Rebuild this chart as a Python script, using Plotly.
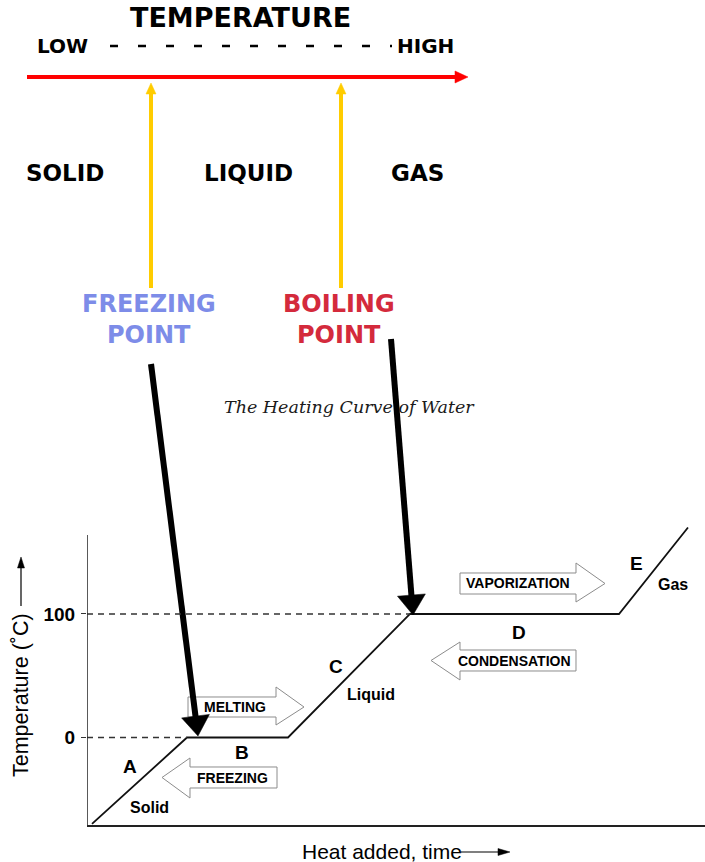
import math
import plotly.graph_objects as go

W, H = 705, 862

# ---------------- data ----------------
heat_added = [0, 95, 196, 318, 527, 596]          # arbitrary heat units
temperature_c = [-70, 0, 0, 100, 100, 170]        # degrees C
y_tick_values = [0, 100]
y_tick_labels = ["0", "100"]
segment_labels = ["A", "B", "C", "D", "E"]
phase_labels = ["Solid", "Liquid", "Gas"]
process_labels = ["MELTING", "FREEZING", "VAPORIZATION", "CONDENSATION"]
scale_title = "TEMPERATURE"
scale_ends = ["LOW", "HIGH"]
scale_states = ["SOLID", "LIQUID", "GAS"]
scale_points = [["FREEZING", "POINT"], ["BOILING", "POINT"]]
chart_title = "The Heating Curve of Water"
x_title = "Heat added, time"
y_title = "Temperature (˚C)"

# ---------------- geometry helpers ----------------
X_RANGE = [-5, 613]
Y_RANGE = [-70.85, 176.1]


def px(x):
    return x / W


def py(y):
    return 1 - y / H


def P(x, y):
    return f"{px(x):.5f},{py(y):.5f}"


def poly(points):
    return "M " + " L ".join(P(x, y) for x, y in points) + " Z"


shapes = []
annotations = []


def line(x0, y0, x1, y1, color, width, dash="solid"):
    shapes.append(dict(type="line", xref="paper", yref="paper",
                       x0=px(x0), y0=py(y0), x1=px(x1), y1=py(y1),
                       line=dict(color=color, width=width, dash=dash)))


def tri(points, color):
    shapes.append(dict(type="path", xref="paper", yref="paper", path=poly(points),
                       fillcolor=color, line=dict(color=color, width=0.5)))


def text(t, x, y, size, color="black", family="Liberation Sans", bold=False,
         italic=False, angle=0, xanchor="center"):
    annotations.append(dict(text=t, x=px(x), y=py(y), xref="paper", yref="paper",
                            showarrow=False, xanchor=xanchor, yanchor="middle",
                            textangle=angle,
                            font=dict(size=size, color=color, family=family,
                                      weight="bold" if bold else "normal",
                                      style="italic" if italic else "normal")))


def block_arrow(x0, x1, tip, yt, yb, ht, hb, right=True):
    ym = (yt + yb) / 2
    if right:
        pts = [(x0, yt), (x1, yt), (x1, ht), (tip, ym), (x1, hb), (x1, yb), (x0, yb)]
    else:
        pts = [(x1, yt), (x0, yt), (x0, ht), (tip, ym), (x0, hb), (x0, yb), (x1, yb)]
    shapes.append(dict(type="path", xref="paper", yref="paper", path=poly(pts),
                       fillcolor="white", line=dict(color="#8c8c8c", width=1)))


def thick_arrow(x0, y0, xt, yt, width=6, head_len=20, head_half=14):
    dx, dy = xt - x0, yt - y0
    L = math.hypot(dx, dy)
    ux, uy = dx / L, dy / L
    nx, ny = -uy, ux
    bx, by = xt - ux * head_len, yt - uy * head_len
    line(x0, y0, bx + ux * 2, by + uy * 2, "black", width)
    tri([(bx + nx * head_half, by + ny * head_half), (xt, yt),
         (bx - nx * head_half, by - ny * head_half)], "black")


# ---------------- top: temperature scale ----------------
HAND = "DejaVu Sans"
text(scale_title, 240, 18, 27, family=HAND, bold=True)
text(scale_ends[0], 62, 46, 20, family=HAND, bold=True)
text(scale_ends[1], 425, 46, 20, family=HAND, bold=True)
line(110, 46, 392, 46, "black", 2.5, dash="8px,20px")

# red arrow
line(27, 77, 457, 77, "#ff0000", 4)
tri([(455, 71), (468, 77), (455, 83)], "#ff0000")

# yellow arrows
for xc in (151, 341):
    line(xc, 92, xc, 288, "#ffcc00", 4)
    tri([(xc - 5, 94), (xc + 5, 94), (xc, 83)], "#ffcc00")

text(scale_states[0], 65, 173, 23, family=HAND, bold=True)
text(scale_states[1], 248, 173, 23, family=HAND, bold=True)
text(scale_states[2], 417, 173, 23, family=HAND, bold=True)

for (l1, l2), xc, col in zip(scale_points, (149, 339), ("#7d8ce8", "#d42a3c")):
    text(l1, xc, 304, 24, color=col, family=HAND, bold=True)
    text(l2, xc, 335, 24, color=col, family=HAND, bold=True)

# title
text("<i>" + chart_title + "</i>", 349, 407, 17.5, color="#1a1a1a", family="DejaVu Serif")

# ---------------- heating curve chart decorations ----------------
block_arrow(188, 276, 304, 697, 717, 687, 725, right=True)
text(process_labels[0], 235, 707, 14, bold=True)
block_arrow(190, 277, 162, 767, 788, 758, 798, right=False)
text(process_labels[1], 233, 778, 14, bold=True)
block_arrow(460, 576, 605, 573, 594, 563, 602, right=True)
text(process_labels[2], 518, 583, 14, bold=True)
block_arrow(460, 576, 431, 650, 671, 642, 680, right=False)
text(process_labels[3], 514, 661, 14, bold=True)

# big black arrows (drawn over the block arrows)
thick_arrow(151, 364, 198, 736)
thick_arrow(391, 339, 413, 615)

for lab, (x, y) in zip(segment_labels, [(130, 766), (242, 752), (336, 666), (519, 632), (636, 563)]):
    text(lab, x, y, 19, bold=True)
for lab, (x, y) in zip(phase_labels, [(149, 807), (371, 694), (673, 584)]):
    text(lab, x, y, 16, bold=True)

# axis titles
text(y_title, 21, 695, 21.5, angle=-90)
line(21, 606, 21, 566, "black", 1.2)
tri([(17.5, 568), (24.5, 568), (21, 557)], "black")
text(x_title, 300, 851, 21, xanchor="left")
line(461, 852, 500, 852, "black", 1.2)
tri([(498, 848.5), (498, 855.5), (510, 852)], "black")

# data-space reference lines
shapes.append(dict(type="line", xref="x", yref="y", x0=X_RANGE[0], x1=heat_added[1],
                   y0=0, y1=0, line=dict(color="#333", width=1.3, dash="6px,5px")))
shapes.append(dict(type="line", xref="x", yref="y", x0=X_RANGE[0], x1=heat_added[3],
                   y0=100, y1=100, line=dict(color="#333", width=1.3, dash="6px,5px")))
# y axis line
shapes.append(dict(type="line", xref="x", yref="y", x0=X_RANGE[0], x1=X_RANGE[0],
                   y0=Y_RANGE[0], y1=164, line=dict(color="#222", width=1.5)))

fig = go.Figure()
fig.add_trace(go.Scatter(x=heat_added, y=temperature_c, mode="lines",
                         line=dict(color="#111", width=1.8), hoverinfo="skip"))

fig.update_layout(
    width=W, height=H, margin=dict(l=0, r=0, t=0, b=0),
    paper_bgcolor="white", plot_bgcolor="white", showlegend=False,
    shapes=shapes, annotations=annotations,
    xaxis=dict(domain=[87 / W, 1], range=X_RANGE, showline=True, linecolor="#222",
               linewidth=1.5, showticklabels=False, ticks="", showgrid=False,
               zeroline=False, fixedrange=True),
    yaxis=dict(domain=[(H - 825) / H, (H - 520) / H], range=Y_RANGE,
               tickvals=y_tick_values, ticktext=y_tick_labels, ticks="outside",
               ticklen=5, tickwidth=1.2, tickcolor="#333", ticklabelstandoff=2,
               tickfont=dict(family="Liberation Sans", size=19, color="black", weight="bold"),
               showline=False, showgrid=False, zeroline=False, fixedrange=True),
)

fig.write_html("out.html", config={"displayModeBar": False},
               post_script="document.body.style.margin='0px';document.body.style.overflow='hidden';")
